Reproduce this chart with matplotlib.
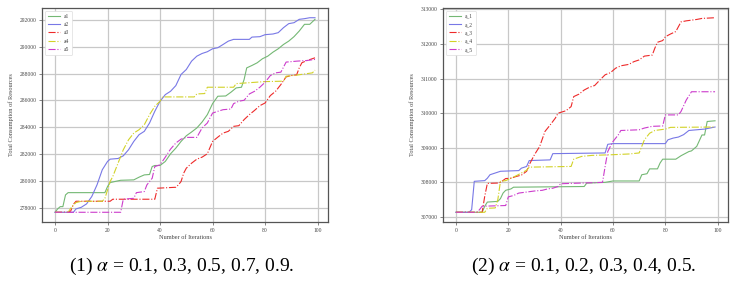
import matplotlib
matplotlib.use("Agg")
import matplotlib.pyplot as plt

# ---------------- data: left panel (alpha = 0.1 ... 0.9) ----------------
L_a1_x = [0,1,2,3,4,5,19,20,21,25,30,32,34,36,37,38,40,42,44,46,48,50,52,54,56,58,60,62,65,67,69,71,72,73,75,77,79,81,83,85,87,89,91,93,95,97,99]
L_a1_y = [277680,277930,278100,278100,278970,279140,279140,279590,279890,280060,280090,280290,280460,280490,281080,281160,281160,281460,282030,282450,282950,283370,283650,283950,284390,284940,285760,286310,286330,286610,286930,286980,287550,288420,288600,288800,289100,289290,289590,289840,290160,290410,290740,291160,291660,291660,292030]

L_a2_x = [0,7,8,10,12,14,16,18,20,21,24,26,28,30,32,34,36,38,40,42,44,46,48,50,52,54,56,58,60,62,64,66,68,74,75,78,80,83,85,87,89,91,93,95,97,99]
L_a2_y = [277680,277680,277930,278050,278300,278850,279720,280840,281460,281630,281680,281880,282330,282950,283450,283700,284320,285190,285940,286430,286680,287100,287930,288300,288920,289290,289490,289620,289840,289920,290160,290410,290540,290540,290710,290740,290890,290940,291040,291410,291710,291780,292030,292080,292150,292150]

L_a3_x = [0,5,6,7,8,21,22,38,39,46,47,48,49,50,52,54,56,58,60,62,64,66,68,70,72,74,76,78,80,82,84,86,88,90,92,93,94,96,99]
L_a3_y = [277680,277680,277780,278270,278500,278500,278650,278650,279470,279540,279720,279970,280590,280960,281330,281630,281780,282030,282950,283270,283570,283700,284070,284120,284570,284940,285260,285610,285810,286360,286680,287180,287750,287850,287900,288420,288800,288970,289170]

L_a4_x = [0,5,6,7,8,10,18,19,20,21,22,24,26,28,30,32,34,36,38,40,41,53,54,57,58,68,69,80,87,88,92,98,99]
L_a4_y = [277680,277680,277980,278220,278400,278500,278500,278720,279340,279970,280340,281330,282330,283070,283570,283820,284190,284940,285560,285940,286260,286260,286480,286510,286980,286980,287250,287400,287430,287800,287880,288050,288250]

L_a5_x = [0,25,26,30,31,34,35,37,38,40,42,44,46,48,50,54,56,58,60,62,64,67,68,70,72,74,76,78,80,82,84,86,88,92,96,99]
L_a5_y = [277680,277680,278650,278720,279140,279220,279720,280210,281080,281210,281780,282380,282830,283120,283250,283250,283950,284320,285060,285190,285310,285360,285760,285940,286010,286480,286680,286980,287350,287850,288050,288100,288850,288920,288970,289050]

# ---------------- data: right panel (alpha = 0.1 ... 0.5) ----------------
R_a1_x = [0,10,11,12,16,17,18,19,21,22,49,50,57,60,70,71,73,74,77,78,79,84,86,88,89,90,92,94,95,96,99]
R_a1_y = [307135,307135,307310,307430,307450,307530,307690,307770,307810,307860,307880,307980,308000,308040,308040,308220,308250,308390,308390,308560,308670,308670,308770,308850,308890,308910,309040,309370,309370,309760,309780]

R_a2_x = [0,5,6,7,11,12,13,15,17,24,25,27,28,36,37,57,58,60,80,81,83,85,87,89,95,99]
R_a2_y = [307135,307135,307210,308030,308050,308120,308220,308270,308320,308340,308410,308460,308630,308650,308830,308850,309100,309120,309120,309230,309280,309310,309380,309500,309540,309600]

R_a3_x = [0,10,11,12,16,17,19,21,23,25,27,28,30,32,34,36,38,39,42,44,45,47,49,51,53,55,57,59,61,63,66,68,70,72,75,76,77,79,80,82,84,86,88,92,94,99]
R_a3_y = [307135,307135,307600,307970,307980,308000,308110,308120,308170,308210,308320,308510,308800,309040,309470,309660,309860,310000,310070,310190,310480,310550,310670,310750,310800,310960,311110,311170,311300,311370,311410,311490,311540,311650,311680,311880,312050,312100,312210,312290,312360,312640,312670,312710,312740,312760]

R_a4_x = [0,11,12,15,16,17,19,21,23,25,27,28,44,45,48,52,60,66,70,71,72,74,76,80,82,99]
R_a4_y = [307135,307135,307250,307260,307500,308030,308050,308120,308190,308270,308350,308440,308460,308670,308750,308780,308800,308820,308850,309040,309230,309420,309500,309540,309590,309600]

R_a5_x = [0,8,9,10,19,20,22,24,26,30,33,35,37,39,40,56,57,58,59,60,62,63,70,72,75,79,80,85,86,88,90,99]
R_a5_y = [307135,307135,307210,307310,307330,307580,307620,307690,307710,307750,307770,307810,307830,307880,307960,308000,308460,308890,309040,309180,309370,309500,309520,309570,309620,309630,309950,309950,310050,310380,310620,310620]

left_labels = ["a1", "a2", "a3", "a4", "a5"]
right_labels = ["a_1", "a_2", "a_3", "a_4", "a_5"]
left_yticks = [278000, 280000, 282000, 284000, 286000, 288000, 290000, 292000]
right_yticks = [307000, 308000, 309000, 310000, 311000, 312000, 313000]
xticks = [0, 20, 40, 60, 80, 100]
captions = ["(1) $\\alpha$ = 0.1, 0.3, 0.5, 0.7, 0.9.",
            "(2) $\\alpha$ = 0.1, 0.2, 0.3, 0.4, 0.5."]

colors = ["#74b874", "#7878e6", "#ee2a2a", "#d2d228", "#cc3ccc"]
styles = ["-", "-", "-.", "-.", "-."]

plt.rcParams["mathtext.fontset"] = "stix"
small_font = "Liberation Serif"

fig = plt.figure(figsize=(7.44, 2.83), dpi=100)

def panel(rect, series, labels, yticks):
    ax = fig.add_axes(rect)
    for (xs, ys), lab, c, ls in zip(series, labels, colors, styles):
        ax.plot(xs, ys, color=c, linestyle=ls, linewidth=0.8, label=lab)
    ax.set_xticks(xticks)
    ax.set_yticks(yticks)
    ax.grid(True, color="#c8c8c8", linewidth=0.9)
    ax.set_axisbelow(True)
    for sp in ax.spines.values():
        sp.set_color("#555555")
        sp.set_linewidth(0.9)
    ax.tick_params(labelsize=4, length=2, width=0.5, pad=2, colors="#555555", labelcolor="#444444")
    for t in ax.get_xticklabels() + ax.get_yticklabels():
        t.set_family(small_font)
    ax.set_xlabel("Number of Iterations", fontsize=4.5, family=small_font, color="#444444", labelpad=2)
    ax.set_ylabel("Total Consumption of Resources", fontsize=4.5, family=small_font, color="#444444", labelpad=4)
    leg = ax.legend(loc="upper left", fontsize=4, prop={"family": small_font, "size": 4},
                    handlelength=2.2, borderpad=0.5, labelspacing=0.6, framealpha=1)
    leg.get_frame().set_edgecolor("#dddddd")
    leg.get_frame().set_linewidth(0.5)
    for t in leg.get_texts():
        t.set_color("#444444")
    return ax

left_series = [(L_a1_x, L_a1_y), (L_a2_x, L_a2_y), (L_a3_x, L_a3_y), (L_a4_x, L_a4_y), (L_a5_x, L_a5_y)]
right_series = [(R_a1_x, R_a1_y), (R_a2_x, R_a2_y), (R_a3_x, R_a3_y), (R_a4_x, R_a4_y), (R_a5_x, R_a5_y)]

ax1 = panel([42/744, 1-222/283, 286/744, 214/283], left_series, left_labels, left_yticks)
ax2 = panel([443/744, 1-222/283, 285/744, 214/283], right_series, right_labels, right_yticks)

fig.text(182/744, 1-266/283, captions[0], fontsize=14, family="Liberation Serif",
         ha="center", va="center")
fig.text(584/744, 1-266/283, captions[1], fontsize=14, family="Liberation Serif",
         ha="center", va="center")

fig.savefig("out.png", dpi=100)
